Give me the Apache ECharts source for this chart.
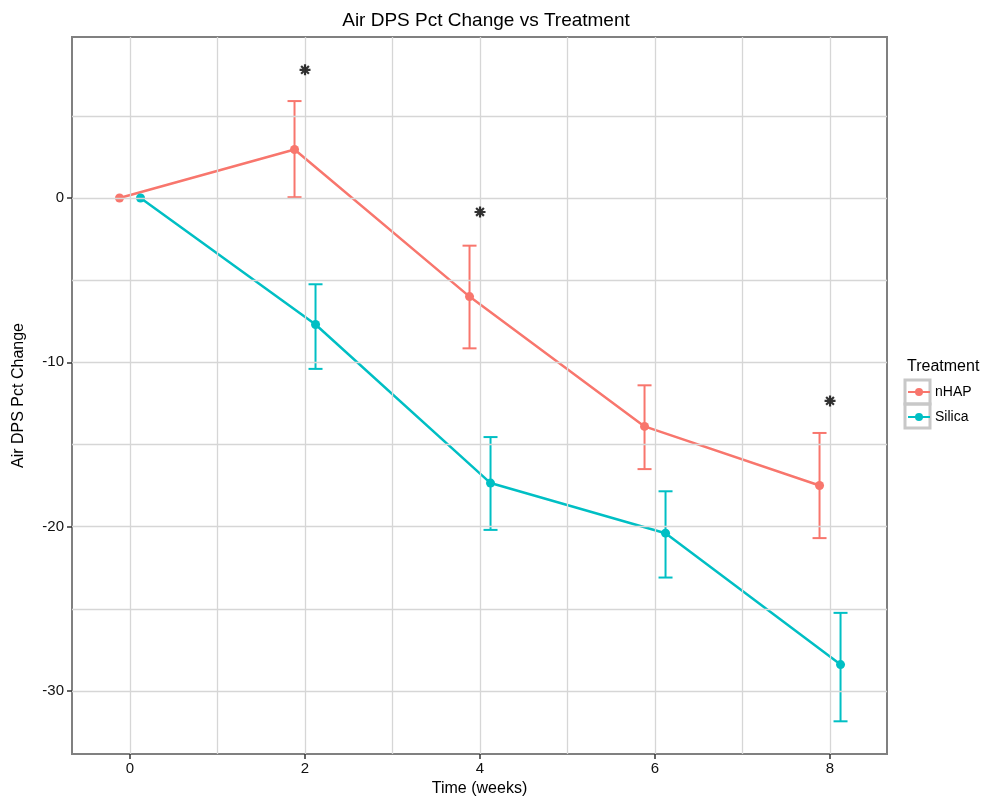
<!DOCTYPE html>
<html>
<head>
<meta charset="utf-8">
<script src="https://cdn.jsdelivr.net/npm/echarts@6/dist/echarts.min.js"></script>
<style>html,body{margin:0;padding:0;background:#fff}#c{width:982px;height:798px}</style>
</head>
<body>
<div id="c"></div>
<script>
// ---- data ----
const weeks = [0, 2, 4, 6, 8];
const nhapMean = [0, 2.95, -6.0, -13.9, -17.5];
const nhapLow  = [0, 0.05, -9.15, -16.5, -20.7];
const nhapHigh = [0, 5.9, -2.9, -11.4, -14.3];
const silicaMean = [0, -7.7, -17.35, -20.4, -28.4];
const silicaLow  = [0, -10.4, -20.2, -23.1, -31.85];
const silicaHigh = [0, -5.25, -14.55, -17.85, -25.25];
const starWeeks = [2, 4, 8];
const starY = [7.8, -0.85, -12.35];
const xTicks = [0, 2, 4, 6, 8];
const xMinor = [1, 3, 5, 7];
const yTicks = [-30, -20, -10, 0];
const yMinor = [-25, -15, -5, 5];
const dodge = 0.12;

const C1 = '#F8766D', C2 = '#00BFC4';
const FONT = 'Liberation Sans, Arial, Helvetica, sans-serif';
const STAR = 'path://M-5,-1L5,-1L5,1L-5,1Z M-1,-5L1,-5L1,5L-1,5Z ' +
  'M-2.83,-4.24L4.24,2.83L2.83,4.24L-4.24,-2.83Z M-4.24,2.83L2.83,-4.24L4.24,-2.83L-2.83,4.24Z';

function pts(mean, off) { return weeks.map((w, i) => [w + off, mean[i]]); }
function errs(low, high, off) { return weeks.map((w, i) => [w + off, low[i], high[i]]); }

function errorSeries(name, low, high, off, color) {
  return {
    type: 'custom', name: name, silent: true, z: 3,
    data: errs(low, high, off),
    encode: { x: 0, y: [1, 2] },
    renderItem: function (params, api) {
      const x = api.value(0);
      if (api.value(1) === api.value(2)) return null;
      const lo = api.coord([x, api.value(1)]);
      const hi = api.coord([x, api.value(2)]);
      const hw = 7;
      const st = { stroke: color, lineWidth: 2 };
      return {
        type: 'group', children: [
          { type: 'line', shape: { x1: lo[0], y1: lo[1], x2: hi[0], y2: hi[1] }, style: st },
          { type: 'line', shape: { x1: lo[0] - hw, y1: lo[1], x2: lo[0] + hw, y2: lo[1] }, style: st },
          { type: 'line', shape: { x1: hi[0] - hw, y1: hi[1], x2: hi[0] + hw, y2: hi[1] }, style: st }
        ]
      };
    }
  };
}

const gridLineStyle = { color: '#d6d6d6', width: 1.3, type: 'solid' };
const markLines = [];
xTicks.concat(xMinor).forEach(v => markLines.push({ xAxis: v }));
yTicks.concat(yMinor).forEach(v => markLines.push({ yAxis: v }));

const chart = echarts.init(document.getElementById('c'), null, { renderer: 'canvas' });
chart.setOption({
  animation: false,
  backgroundColor: '#fff',
  title: {
    text: 'Air DPS Pct Change vs Treatment', left: 481, textAlign: 'center', top: 6,
    textStyle: { fontFamily: FONT, fontSize: 19, fontWeight: 'normal', color: '#000' }
  },
  grid: { left: 72, right: 95, top: 37, bottom: 44, show: true, borderColor: '#808080', borderWidth: 2,
    backgroundColor: 'transparent', containLabel: false, outerBoundsMode: 'none' },
  xAxis: {
    type: 'value', min: -0.663, max: 8.651,
    name: 'Time (weeks)', nameLocation: 'middle', nameGap: 24,
    nameTextStyle: { fontFamily: FONT, fontSize: 16, color: '#000' },
    axisLine: { show: true, onZero: false, lineStyle: { color: '#808080', width: 2 } },
    axisTick: { show: true, customValues: xTicks, length: 5, lineStyle: { color: '#333', width: 1.5 } },
    axisLabel: { customValues: xTicks, fontFamily: FONT, fontSize: 15, color: '#111', margin: 7 },
    splitLine: { show: false }
  },
  yAxis: {
    type: 'value', min: -33.84, max: 9.8,
    name: 'Air DPS Pct Change', nameLocation: 'middle', nameGap: 45, nameRotate: 90,
    nameTextStyle: { fontFamily: FONT, fontSize: 16, color: '#000' },
    axisLine: { show: true, onZero: false, lineStyle: { color: '#808080', width: 2 } },
    axisTick: { show: true, customValues: yTicks, length: 5, lineStyle: { color: '#333', width: 1.5 } },
    axisLabel: { customValues: yTicks, fontFamily: FONT, fontSize: 15, color: '#111', margin: 8 },
    splitLine: { show: false }
  },
  legend: {
    orient: 'vertical', left: 907, top: 385, padding: 0,
    data: ['nHAP', 'Silica'],
    itemWidth: 22, itemHeight: 10, itemGap: 11,
    textStyle: { fontFamily: FONT, fontSize: 14, color: '#000' },
    selectedMode: false
  },
  graphic: [
    { type: 'text', left: 907, top: 359, style: { text: 'Treatment', font: '16px ' + FONT, fill: '#000' } },
    { type: 'rect', shape: { x: 905, y: 380, width: 25, height: 24 }, style: { fill: 'none', stroke: '#c8c8c8', lineWidth: 3 } },
    { type: 'rect', shape: { x: 905, y: 404, width: 25, height: 24 }, style: { fill: 'none', stroke: '#c8c8c8', lineWidth: 3 } }
  ],
  series: [
    { type: 'line', name: '_grid', data: [], silent: true, z: 0,
      markLine: { silent: true, symbol: 'none', label: { show: false }, lineStyle: gridLineStyle, data: markLines, animation: false } },
    errorSeries('nHAP_err', nhapLow, nhapHigh, -dodge, C1),
    errorSeries('Silica_err', silicaLow, silicaHigh, dodge, C2),
    { type: 'line', name: 'nHAP', data: pts(nhapMean, -dodge), color: C1, symbol: 'circle', symbolSize: 9,
      lineStyle: { width: 2.5, color: C1 }, itemStyle: { color: C1 }, z: 4 },
    { type: 'line', name: 'Silica', data: pts(silicaMean, dodge), color: C2, symbol: 'circle', symbolSize: 9,
      lineStyle: { width: 2.5, color: C2 }, itemStyle: { color: C2 }, z: 4 },
    { type: 'scatter', name: '_stars', data: starWeeks.map((w, i) => [w, starY[i]]),
      symbol: STAR, symbolSize: 11, itemStyle: { color: '#000' }, z: 5 }
  ]
});
</script>
</body>
</html>
